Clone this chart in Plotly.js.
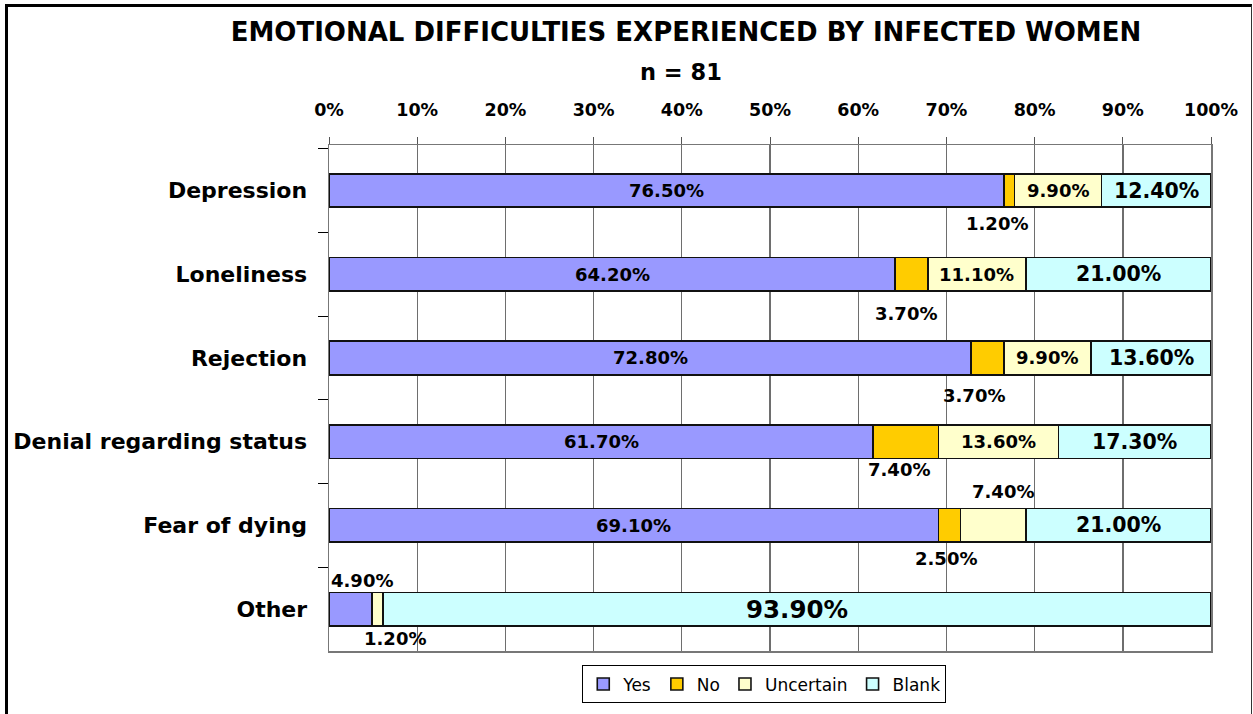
<!DOCTYPE html>
<html>
<head>
<meta charset="utf-8">
<script src="https://cdn.plot.ly/plotly-3.0.1.min.js"></script>
<style>
  html, body { margin: 0; padding: 0; background: #fff; }
  #wrap { position: relative; width: 1253px; height: 714px; overflow: hidden; }
  #chart { position: absolute; left: 0; top: 0; width: 1253px; height: 714px; }
  #frame { position: absolute; left: 5px; top: 4px; width: 1243px; height: 730px;
           border-top: 3px solid #000; border-left: 3px solid #000; border-right: 1px solid #333;
           pointer-events: none; }
</style>
</head>
<body>
<div id="wrap">
  <div id="chart"></div>
  <div id="frame"></div>
</div>
<script>
// ---- Data ----
const categories = ["Depression", "Loneliness", "Rejection", "Denial regarding status", "Fear of dying", "Other"];
const seriesNames = ["Yes", "No", "Uncertain", "Blank"];
const yesValues = [76.5, 64.2, 72.8, 61.7, 69.1, 4.9];
const noValues = [1.2, 3.7, 3.7, 7.4, 2.5, 0];
const uncertainValues = [9.9, 11.1, 9.9, 13.6, 7.4, 1.2];
const blankValues = [12.4, 21.0, 13.6, 17.3, 21.0, 93.9];
const xTickValues = [0, 10, 20, 30, 40, 50, 60, 70, 80, 90, 100];

// ---- Styles ----
const colors = ["#9999FF", "#FFCC00", "#FFFFCC", "#CCFFFF"];
const FONT = "DejaVu Sans, Verdana, sans-serif";
const allSeries = [yesValues, noValues, uncertainValues, blankValues];

const traces = allSeries.map((vals, i) => ({
  type: "bar",
  orientation: "h",
  name: seriesNames[i],
  y: categories,
  x: vals,
  width: 0.4,
  marker: { color: colors[i], line: { color: "#111", width: 1.6 } },
  hoverinfo: "x+name"
}));

// label placement (style, not data): default inside for Yes/Uncertain/Blank, below for No
const labelSize = [18, 18, 18, 20.5];
const noPlacement = [ {dy: -33, dx: -12}, {dy: -39, dx: -6}, {dy: -38, dx: -13}, {dy: -28, dx: -7}, {dy: -33, dx: -3}, null ];
const overrides = {
  "2-4": {dy: 34, dx: 10},   // Fear of dying, Uncertain: above
  "0-5": {dy: 29, dx: 11},   // Other, Yes: above
  "2-5": {dy: -29, dx: 17}   // Other, Uncertain: below
};

const annotations = [];
categories.forEach((cat, c) => {
  let cum = 0;
  allSeries.forEach((vals, s) => {
    const v = vals[c];
    const mid = cum + v / 2;
    cum += v;
    if (v <= 0) return;
    let place = overrides[s + "-" + c] || (s === 1 ? noPlacement[c] : null);
    let size = labelSize[s];
    if (s === 3 && c === 5) size = 24.5;
    annotations.push({
      x: mid, y: cat, xref: "x", yref: "y",
      text: v.toFixed(2) + "%",
      showarrow: false,
      xshift: place ? place.dx : 0,
      yshift: place ? place.dy : 0,
      font: { family: FONT, size: size, color: "#000", weight: "bold" }
    });
  });
});

annotations.push({
  text: "<b>n = 81</b>", xref: "paper", yref: "paper", x: 0.399, y: 1.144,
  xanchor: "center", yanchor: "middle", showarrow: false,
  font: { family: FONT, size: 22.5, color: "#000" }
});

const layout = {
  width: 1253, height: 714,
  margin: { l: 329, r: 42, t: 145, b: 63, autoexpand: false },
  paper_bgcolor: "#fff", plot_bgcolor: "#fff",
  barmode: "stack",
  bargap: 0.6,
  showlegend: true,
  title: {
    text: "<b>EMOTIONAL DIFFICULTIES EXPERIENCED BY INFECTED WOMEN</b>",
    x: 686 / 1253, xanchor: "center", y: 1 - 32 / 714, yanchor: "middle", yref: "container",
    font: { family: FONT, size: 26, color: "#000" }
  },
  xaxis: {
    side: "top", range: [0, 100], tickvals: xTickValues, ticktext: xTickValues.map(v => "<b>" + v + "%</b>"),
    showgrid: true, gridcolor: "#6e6e6e", gridwidth: 1.4,
    showline: true, linecolor: "#777", linewidth: 1.5, mirror: true,
    ticks: "outside", ticklen: 7, tickcolor: "#555", tickwidth: 1,
    ticklabelstandoff: 14,
    tickfont: { family: FONT, size: 17.5, color: "#000" },
    zeroline: false, fixedrange: true
  },
  yaxis: {
    type: "category", autorange: "reversed",
    tickson: "boundaries", ticks: "outside", ticklen: 10, tickcolor: "#000", tickwidth: 1,
    showgrid: false, showline: true, linecolor: "#777", linewidth: 1.5, mirror: true,
    ticklabelstandoff: 16,
    tickfont: { family: FONT, size: 22, color: "#000", weight: "bold" },
    fixedrange: true
  },
  legend: {
    orientation: "h", x: 0.4935, xanchor: "center", y: -0.066, yanchor: "middle",
    bordercolor: "#000", borderwidth: 1, bgcolor: "#fff",
    font: { family: FONT, size: 17, color: "#000" },
    itemwidth: 30, tracegroupgap: 0, traceorder: "normal"
  },
  annotations: annotations
};

Plotly.newPlot("chart", traces, layout, { displayModeBar: false, staticPlot: true });
</script>
</body>
</html>
